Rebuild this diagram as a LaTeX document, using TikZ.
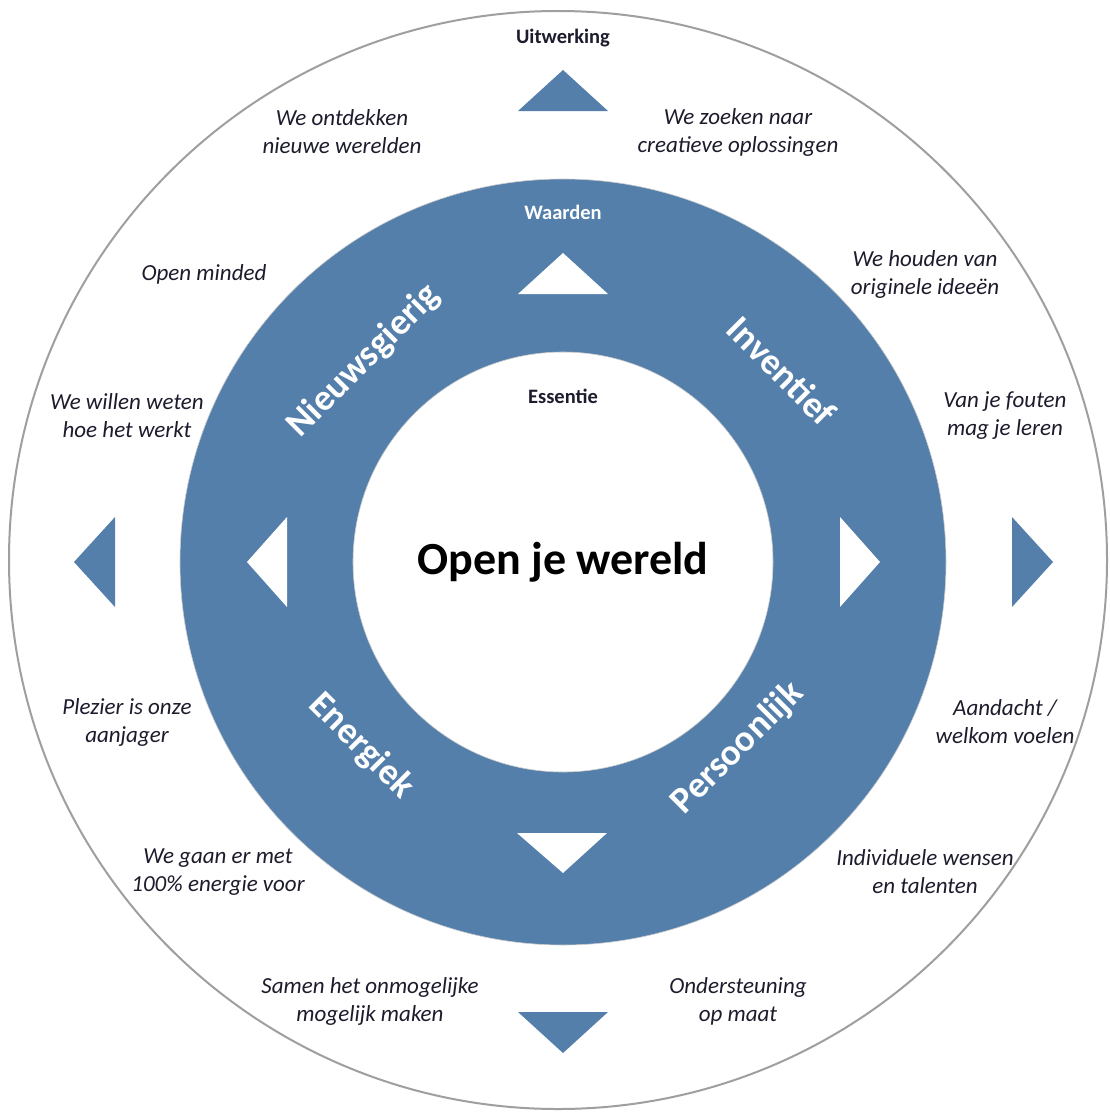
\documentclass[tikz,border=0pt]{standalone}
\usepackage{fontspec}
\setmainfont{Carlito}
\definecolor{ringblue}{RGB}{84,127,170}
\definecolor{txtdark}{RGB}{28,28,45}
\begin{document}
\begin{tikzpicture}[x=1pt,y=-1pt,
  note/.style={align=center, text=txtdark, font=\itshape\fontsize{23}{28}\selectfont, inner sep=0pt},
  ringlabel/.style={text=white, font=\bfseries\fontsize{37}{40}\selectfont, inner sep=0pt},
  head/.style={font=\bfseries\fontsize{20.5}{22}\selectfont, inner sep=0pt}]
\useasboundingbox (0,0) rectangle (1110,1116);
\fill[white] (0,0) rectangle (1110,1116);
% outer circle
\draw[gray!75, line width=2pt] (558,560) circle[radius=549];
% blue ring
\fill[ringblue, even odd rule] (563,562) circle[radius=383] (563,562) circle[radius=210];
\draw[gray!40, line width=0.6pt] (563,562) circle[radius=383];
\draw[gray!40, line width=0.6pt] (563,562) circle[radius=210];
% white triangles in ring
\fill[white] (563,253) -- (518,294) -- (608,294) -- cycle;
\fill[white] (563,873) -- (517,833) -- (607,833) -- cycle;
\fill[white] (247,562) -- (287,517) -- (287,607) -- cycle;
\fill[white] (880,562) -- (840,517) -- (840,607) -- cycle;
% blue triangles outside
\fill[ringblue] (563,70) -- (518,111) -- (608,111) -- cycle;
\fill[ringblue] (563,1053) -- (518,1012) -- (608,1012) -- cycle;
\fill[ringblue] (74,562) -- (115,517) -- (115,607) -- cycle;
\fill[ringblue] (1053,562) -- (1012,517) -- (1012,607) -- cycle;
% headings
\node[head, text=txtdark] (uitwerking) at (563,38) {Uitwerking};
\node[head, text=white] (waarden) at (563,212) {Waarden};
\node[head, text=txtdark] (essentie) at (563,396) {Essentie};
\node[font=\bfseries\fontsize{46}{50}\selectfont, text=black, inner sep=0pt] (center) at (563,562) {Open je wereld};
% ring labels
\node[ringlabel, rotate=45] (nieuws) at (364,361) {Nieuwsgierig};
\node[ringlabel, rotate=-45] (invent) at (782,371) {Inventief};
\node[ringlabel, rotate=-45] (energ) at (361,746) {Energiek};
\node[ringlabel, rotate=45] (persoon) at (738,748) {Persoonlijk};
% outer notes
\node[note] (n1) at (342,132) {We ontdekken\\nieuwe werelden};
\node[note] (n2) at (738,132) {We zoeken naar\\creatieve oplossingen};
\node[note] (n3) at (204,274) {Open minded};
\node[note] (n4) at (925,274) {We houden van\\originele ideeën};
\node[note] (n5) at (127,416) {We willen weten\\hoe het werkt};
\node[note] (n6) at (1005,416) {Van je fouten\\mag je leren};
\node[note] (n7) at (127,722) {Plezier is onze\\aanjager};
\node[note] (n8) at (1005,722) {Aandacht /\\welkom voelen};
\node[note] (n9) at (218,872) {We gaan er met\\100\% energie voor};
\node[note] (n10) at (925,872) {Individuele wensen\\en talenten};
\node[note] (n11) at (370,1001) {Samen het onmogelijke\\mogelijk maken};
\node[note] (n12) at (738,1001) {Ondersteuning\\op maat};
\end{tikzpicture}
\end{document}
